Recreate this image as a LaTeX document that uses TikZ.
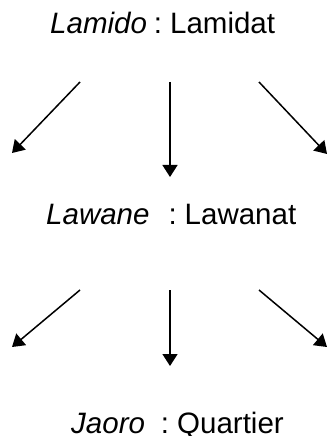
\documentclass[tikz,border=0pt]{standalone}
\usepackage{fontspec}
\setmainfont{Liberation Sans}
\usetikzlibrary{arrows.meta}
\begin{document}
\begin{tikzpicture}[x=1bp,y=-1bp,
  lbl/.style={anchor=base west,inner sep=0pt,font=\fontsize{29.5bp}{35bp}\selectfont},
  arr/.style={line width=1.5bp,-{Triangle[length=12bp,width=15bp]}}]
\useasboundingbox (0,0) rectangle (326,436);
% texts
\node[lbl] (t1) at (50,34) {\textit{Lamido}\hspace{7bp}:\hspace{8bp}Lamidat};
\node[lbl] (t2) at (46,224) {\textit{Lawane}\hspace{19bp}:\hspace{8bp}Lawanat};
\node[lbl] (t3) at (71,433) {\textit{Jaoro}\hspace{16bp}:\hspace{8bp}Quartier};
% arrow end points, first level
\coordinate (a1l) at (80,82);   \coordinate (b1l) at (12,153);
\coordinate (a1m) at (170,82);  \coordinate (b1m) at (170,177);
\coordinate (a1r) at (259,82);  \coordinate (b1r) at (327,154);
% second level
\coordinate (a2l) at (80,290);  \coordinate (b2l) at (12,347);
\coordinate (a2m) at (170,290); \coordinate (b2m) at (170,366);
\coordinate (a2r) at (259,290); \coordinate (b2r) at (327,347);
\draw[arr] (a1l) -- (b1l);
\draw[arr] (a1m) -- (b1m);
\draw[arr] (a1r) -- (b1r);
\draw[arr] (a2l) -- (b2l);
\draw[arr] (a2m) -- (b2m);
\draw[arr] (a2r) -- (b2r);
\end{tikzpicture}
\end{document}
